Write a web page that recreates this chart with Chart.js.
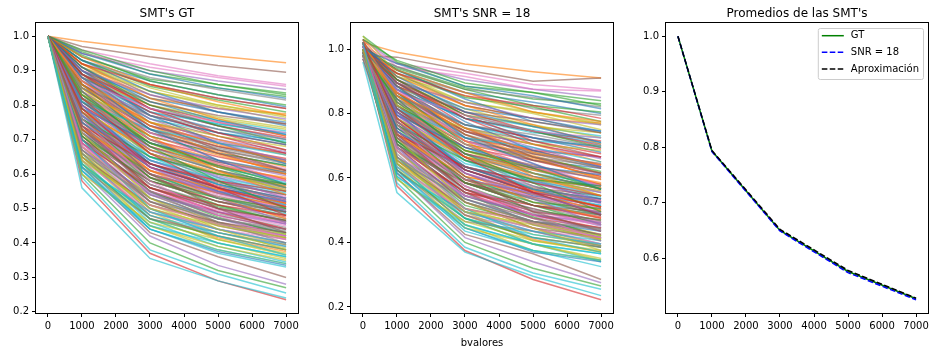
<!DOCTYPE html>
<html>
<head>
<meta charset="utf-8">
<script src="https://cdn.jsdelivr.net/npm/chart.js@4.4.1/dist/chart.umd.min.js"></script>
<style>
html,body{margin:0;padding:0;background:#fff;}
#wrap{position:relative;width:932px;height:353px;overflow:hidden;background:#fff;}
canvas{position:absolute;top:0;}
</style>
</head>
<body>
<div id="wrap">
<canvas id="c1" style="left:0px" width="310" height="353"></canvas>
<canvas id="c2" style="left:310px" width="310" height="353"></canvas>
<canvas id="c3" style="left:620px" width="312" height="353"></canvas>
</div>
<script>
// ---------- data ----------
const BVALORES = [0, 1000, 3000, 5000, 7000];
const X_TICKS = [0, 1000, 2000, 3000, 4000, 5000, 6000, 7000];
const GT_Y_TICKS = [0.2, 0.3, 0.4, 0.5, 0.6, 0.7, 0.8, 0.9, 1.0];
const SNR_Y_TICKS = [0.2, 0.4, 0.6, 0.8, 1.0];
const AVG_Y_TICKS = [0.6, 0.7, 0.8, 0.9, 1.0];

const TITLE_GT = "SMT's GT";
const TITLE_SNR = "SMT's SNR = 18";
const TITLE_AVG = "Promedios de las SMT's";
const X_LABEL = "bvalores";
const AVG_LABELS = ["GT", "SNR = 18", "Aproximación"];

// each row: signal at b = 0, 1000, 3000, 5000, 7000
const GT_CURVES = [
[1,0.93,0.87,0.83,0.795],[1,0.985,0.962,0.942,0.923],[1,0.94,0.875,0.85,0.825],[1,0.89,0.77,0.72,0.685],[1,0.95,0.90,0.87,0.845],
[1,0.97,0.94,0.915,0.895],[1,0.96,0.92,0.885,0.86],[1,0.93,0.86,0.82,0.79],[1,0.92,0.85,0.80,0.765],[1,0.90,0.80,0.755,0.725],
[1,0.88,0.79,0.74,0.70],[1,0.91,0.82,0.79,0.775],[1,0.955,0.89,0.86,0.835],[1,0.87,0.74,0.69,0.66],[1,0.86,0.75,0.70,0.665],
[1,0.92,0.83,0.78,0.745],[1,0.95,0.91,0.88,0.855],[1,0.94,0.88,0.845,0.815],[1,0.90,0.81,0.765,0.735],[1,0.89,0.79,0.745,0.715],
[1,0.84,0.71,0.66,0.625],[1,0.85,0.72,0.665,0.62],[1,0.945,0.87,0.83,0.80],[1,0.90,0.79,0.74,0.705],[1,0.82,0.69,0.635,0.595],
[1,0.87,0.76,0.71,0.67],[1,0.80,0.66,0.60,0.555],[1,0.81,0.68,0.62,0.58],[1,0.88,0.80,0.76,0.73],[1,0.86,0.76,0.72,0.695],
[1,0.78,0.64,0.58,0.54],[1,0.83,0.70,0.64,0.60],[1,0.93,0.855,0.815,0.78],[1,0.85,0.73,0.68,0.645],[1,0.77,0.62,0.56,0.52],
[1,0.84,0.72,0.67,0.635],[1,0.76,0.60,0.54,0.50],[1,0.79,0.65,0.60,0.565],[1,0.91,0.84,0.80,0.77],[1,0.83,0.69,0.62,0.575],
[1,0.75,0.61,0.55,0.51],[1,0.80,0.67,0.61,0.57],[1,0.74,0.58,0.52,0.48],[1,0.82,0.70,0.65,0.61],[1,0.73,0.57,0.50,0.455],
[1,0.78,0.63,0.57,0.53],[1,0.72,0.56,0.49,0.45],[1,0.81,0.66,0.60,0.56],[1,0.70,0.54,0.47,0.43],[1,0.77,0.60,0.53,0.485],
[1,0.69,0.53,0.47,0.43],[1,0.76,0.61,0.555,0.515],[1,0.68,0.52,0.455,0.415],[1,0.75,0.59,0.52,0.475],[1,0.66,0.49,0.43,0.39],
[1,0.74,0.60,0.545,0.505],[1,0.71,0.55,0.49,0.46],[1,0.67,0.50,0.44,0.40],[1,0.65,0.47,0.40,0.355],[1,0.64,0.46,0.39,0.345],
[1,0.63,0.44,0.375,0.335],[1,0.66,0.48,0.415,0.375],[1,0.60,0.40,0.32,0.27],[1,0.58,0.37,0.29,0.235],[1,0.61,0.42,0.335,0.28],
[1,0.62,0.43,0.36,0.30],[1,0.69,0.52,0.46,0.42],[1,0.72,0.57,0.51,0.47],[1,0.64,0.45,0.38,0.34],[1,0.56,0.355,0.29,0.24],
[1,0.87,0.77,0.72,0.685],[1,0.79,0.66,0.605,0.565],[1,0.82,0.71,0.66,0.625],[1,0.76,0.62,0.565,0.525],[1,0.85,0.74,0.695,0.66],
[1,0.70,0.56,0.50,0.465],[1,0.78,0.64,0.58,0.535],[1,0.73,0.58,0.52,0.48],[1,0.68,0.51,0.44,0.395],[1,0.59,0.38,0.31,0.255],
[1,0.81,0.67,0.61,0.57],[1,0.86,0.75,0.70,0.655],[1,0.75,0.60,0.53,0.49],[1,0.71,0.55,0.48,0.44],[1,0.79,0.64,0.57,0.525],
[1,0.77,0.63,0.575,0.54],[1,0.84,0.72,0.66,0.615],[1,0.74,0.59,0.53,0.49],[1,0.67,0.49,0.41,0.365],[1,0.62,0.44,0.37,0.33],
[1,0.88,0.78,0.73,0.69],[1,0.83,0.71,0.655,0.605],[1,0.72,0.57,0.505,0.465],[1,0.80,0.68,0.625,0.585],[1,0.69,0.53,0.46,0.42],
[1,0.86,0.74,0.68,0.64],[1,0.75,0.61,0.545,0.50],[1,0.70,0.55,0.485,0.445],[1,0.92,0.84,0.795,0.755],[1,0.66,0.47,0.40,0.36],
[1,0.90,0.82,0.78,0.75],[1,0.82,0.69,0.63,0.585],[1,0.71,0.55,0.475,0.425],[1,0.89,0.80,0.75,0.71],[1,0.80,0.66,0.595,0.55],
[1,0.73,0.59,0.535,0.495],[1,0.77,0.62,0.555,0.51],[1,0.85,0.73,0.675,0.64],[1,0.68,0.53,0.46,0.415],[1,0.87,0.78,0.745,0.72],
[1,0.76,0.63,0.57,0.53],[1,0.73,0.60,0.545,0.505],[1,0.63,0.47,0.42,0.38],[1,0.79,0.63,0.56,0.515],[1,0.70,0.545,0.48,0.44],
[1,0.81,0.69,0.635,0.60],[1,0.74,0.57,0.50,0.455],[1,0.83,0.72,0.67,0.63],[1,0.66,0.50,0.43,0.385],[1,0.78,0.65,0.59,0.55],
[1,0.90,0.77,0.69,0.63],[1,0.88,0.74,0.66,0.60],[1,0.86,0.70,0.62,0.56],[1,0.91,0.79,0.72,0.67],[1,0.84,0.67,0.59,0.53],
[1,0.89,0.75,0.67,0.61],[1,0.87,0.72,0.64,0.58],[1,0.83,0.66,0.58,0.52],[1,0.85,0.69,0.61,0.55],[1,0.82,0.65,0.57,0.51],
[1,0.80,0.63,0.55,0.49],[1,0.78,0.61,0.53,0.47],[1,0.76,0.59,0.51,0.46],[1,0.74,0.56,0.49,0.44],[1,0.72,0.54,0.47,0.42],
[1,0.70,0.52,0.45,0.41],[1,0.68,0.50,0.44,0.40],[1,0.65,0.48,0.42,0.38],[1,0.63,0.45,0.39,0.35],[1,0.61,0.44,0.38,0.34],
[1,0.93,0.84,0.78,0.74],[1,0.92,0.82,0.76,0.71],[1,0.91,0.80,0.74,0.69],[1,0.89,0.78,0.71,0.66],[1,0.88,0.76,0.69,0.64],
[1,0.86,0.73,0.66,0.61],[1,0.84,0.70,0.63,0.58],[1,0.82,0.68,0.61,0.56],[1,0.79,0.66,0.60,0.555],[1,0.77,0.64,0.585,0.545],
[1,0.75,0.62,0.56,0.52],[1,0.73,0.61,0.555,0.515],[1,0.71,0.58,0.53,0.50],[1,0.69,0.56,0.51,0.48],[1,0.67,0.54,0.49,0.455],
[1,0.65,0.51,0.46,0.43],[1,0.64,0.49,0.44,0.41],[1,0.62,0.47,0.43,0.395],[1,0.60,0.46,0.41,0.37],[1,0.63,0.48,0.43,0.39],
[1,0.95,0.89,0.85,0.82],[1,0.94,0.86,0.81,0.77],[1,0.96,0.90,0.86,0.83],[1,0.92,0.86,0.82,0.79],[1,0.90,0.83,0.79,0.76],
[1,0.89,0.81,0.77,0.745],[1,0.87,0.79,0.75,0.72],[1,0.85,0.77,0.73,0.70],[1,0.83,0.75,0.71,0.68],[1,0.81,0.73,0.69,0.655],
[1,0.79,0.69,0.64,0.605],[1,0.78,0.67,0.62,0.59],[1,0.76,0.65,0.60,0.57],[1,0.74,0.63,0.58,0.55],[1,0.72,0.60,0.55,0.52],
[1,0.70,0.58,0.52,0.49],[1,0.68,0.55,0.495,0.46],[1,0.66,0.53,0.47,0.44],[1,0.64,0.51,0.455,0.425],[1,0.62,0.49,0.44,0.40],
[1,0.88,0.73,0.64,0.57],[1,0.86,0.71,0.61,0.54],[1,0.84,0.68,0.58,0.50],[1,0.82,0.66,0.56,0.48],[1,0.80,0.62,0.53,0.46],
[1,0.78,0.60,0.50,0.43],[1,0.76,0.58,0.48,0.41],[1,0.74,0.55,0.46,0.40],[1,0.72,0.53,0.44,0.38],[1,0.70,0.50,0.42,0.365],
[1,0.91,0.81,0.755,0.715],[1,0.87,0.75,0.685,0.635],[1,0.83,0.69,0.625,0.57],[1,0.79,0.62,0.56,0.505],[1,0.77,0.62,0.545,0.495],
[1,0.73,0.56,0.50,0.465],[1,0.69,0.51,0.455,0.42],[1,0.67,0.52,0.47,0.435],[1,0.65,0.50,0.45,0.415],[1,0.61,0.45,0.40,0.36]
];

const SNR_CURVES = [
[1.01,0.935,0.865,0.835,0.80],[1.02,0.99,0.954,0.93,0.91],[0.99,0.945,0.88,0.845,0.83],[1.00,0.895,0.765,0.725,0.69],[1.03,0.955,0.905,0.875,0.85],
[0.98,0.975,0.935,0.90,0.91],[1.01,0.955,0.925,0.89,0.873],[0.99,0.925,0.865,0.815,0.795],[1.00,0.915,0.855,0.805,0.77],[1.02,0.905,0.795,0.76,0.73],
[0.97,0.885,0.785,0.745,0.705],[1.01,0.905,0.825,0.785,0.77],[1.04,0.96,0.885,0.865,0.84],[0.99,0.865,0.745,0.685,0.665],[1.00,0.865,0.745,0.705,0.66],
[0.98,0.925,0.825,0.785,0.74],[1.03,0.945,0.915,0.875,0.87],[0.99,0.945,0.875,0.85,0.82],[1.01,0.895,0.815,0.76,0.74],[0.97,0.895,0.785,0.75,0.71],
[1.00,0.835,0.715,0.655,0.63],[1.02,0.855,0.715,0.67,0.615],[0.98,0.94,0.875,0.825,0.805],[1.01,0.905,0.785,0.745,0.70],[0.99,0.815,0.695,0.63,0.60],
[1.00,0.875,0.755,0.715,0.665],[1.03,0.795,0.665,0.595,0.56],[0.97,0.815,0.675,0.625,0.575],[1.00,0.885,0.795,0.765,0.725],[1.02,0.855,0.765,0.715,0.70],
[0.99,0.785,0.635,0.585,0.535],[1.00,0.825,0.705,0.635,0.605],[1.01,0.935,0.85,0.82,0.775],[0.98,0.855,0.725,0.685,0.64],[1.02,0.765,0.625,0.555,0.525],
[1.00,0.845,0.715,0.675,0.63],[0.97,0.765,0.595,0.545,0.495],[1.01,0.785,0.655,0.595,0.57],[0.99,0.915,0.835,0.805,0.765],[1.00,0.825,0.695,0.615,0.58],
[1.02,0.745,0.615,0.545,0.515],[0.98,0.805,0.665,0.615,0.565],[1.01,0.735,0.585,0.515,0.485],[0.99,0.825,0.695,0.655,0.605],[1.00,0.735,0.565,0.505,0.45],
[1.03,0.775,0.635,0.565,0.535],[0.97,0.715,0.565,0.485,0.455],[1.00,0.815,0.655,0.605,0.555],[1.01,0.705,0.535,0.475,0.425],[0.99,0.765,0.605,0.525,0.49],
[1.00,0.685,0.535,0.465,0.435],[1.02,0.765,0.605,0.56,0.51],[0.98,0.685,0.515,0.46,0.41],[1.00,0.745,0.595,0.515,0.48],[1.01,0.665,0.485,0.435,0.385],
[0.99,0.745,0.595,0.55,0.50],[1.00,0.705,0.555,0.485,0.465],[0.97,0.675,0.495,0.445,0.395],[1.01,0.645,0.475,0.395,0.35],[0.99,0.645,0.455,0.395,0.34],
[1.00,0.625,0.445,0.37,0.34],[1.02,0.655,0.485,0.41,0.37],[0.99,0.60,0.40,0.32,0.265],[1.00,0.575,0.375,0.285,0.222],[1.01,0.615,0.415,0.34,0.275],
[0.98,0.615,0.425,0.365,0.285],[1.00,0.695,0.525,0.455,0.425],[1.02,0.715,0.565,0.515,0.465],[0.99,0.645,0.455,0.375,0.345],[0.96,0.555,0.37,0.295,0.235],
[1.00,0.875,0.765,0.725,0.68],[1.01,0.785,0.665,0.60,0.57],[0.99,0.825,0.705,0.665,0.62],[1.00,0.755,0.625,0.56,0.53],[1.02,0.845,0.745,0.69,0.665],
[0.98,0.705,0.555,0.505,0.46],[1.00,0.785,0.635,0.585,0.53],[1.01,0.725,0.585,0.515,0.485],[0.99,0.685,0.505,0.445,0.39],[1.00,0.585,0.385,0.305,0.255],
[1.01,0.805,0.675,0.605,0.575],[0.98,0.865,0.745,0.705,0.65],[1.00,0.755,0.595,0.535,0.485],[1.02,0.705,0.555,0.475,0.445],[0.99,0.795,0.635,0.575,0.52],
[1.00,0.765,0.635,0.57,0.545],[1.01,0.845,0.715,0.665,0.61],[0.98,0.745,0.585,0.535,0.485],[1.00,0.665,0.495,0.405,0.37],[1.01,0.625,0.435,0.375,0.325],
[0.99,0.875,0.785,0.725,0.695],[1.00,0.835,0.705,0.66,0.60],[1.02,0.715,0.575,0.50,0.47],[0.98,0.805,0.675,0.63,0.58],[1.00,0.695,0.525,0.465,0.415],
[1.01,0.855,0.745,0.675,0.645],[0.99,0.745,0.615,0.54,0.505],[1.00,0.705,0.545,0.49,0.44],[1.04,0.925,0.835,0.80,0.75],[0.99,0.665,0.475,0.395,0.365],
[1.00,0.905,0.815,0.785,0.745],[1.02,0.825,0.685,0.635,0.58],[0.98,0.715,0.545,0.48,0.42],[1.00,0.885,0.805,0.745,0.715],[1.01,0.795,0.665,0.59,0.555],
[0.99,0.735,0.585,0.54,0.49],[1.00,0.775,0.615,0.56,0.505],[1.02,0.845,0.735,0.68,0.635],[0.98,0.685,0.525,0.465,0.41],[1.00,0.875,0.785,0.74,0.725],
[1.01,0.755,0.635,0.565,0.535],[0.99,0.735,0.595,0.55,0.50],[1.00,0.625,0.475,0.415,0.385],[1.02,0.785,0.625,0.565,0.51],[0.98,0.705,0.545,0.485,0.435],
[1.00,0.815,0.685,0.64,0.595],[1.01,0.735,0.575,0.495,0.46],[0.99,0.835,0.725,0.665,0.635],[1.00,0.665,0.505,0.425,0.39],[1.01,0.785,0.645,0.595,0.545],
[1.01,0.895,0.775,0.685,0.635],[0.99,0.885,0.735,0.665,0.595],[1.00,0.865,0.705,0.615,0.565],[1.02,0.905,0.795,0.715,0.675],[0.98,0.845,0.665,0.595,0.525],
[1.00,0.885,0.755,0.665,0.615],[1.01,0.875,0.715,0.645,0.575],[0.99,0.825,0.665,0.575,0.525],[1.00,0.855,0.685,0.615,0.545],[1.02,0.815,0.655,0.565,0.515],
[0.98,0.805,0.625,0.555,0.485],[1.00,0.775,0.615,0.525,0.475],[1.01,0.765,0.585,0.515,0.455],[0.99,0.735,0.565,0.485,0.445],[1.00,0.725,0.535,0.475,0.415],
[1.02,0.695,0.525,0.445,0.415],[0.98,0.685,0.495,0.445,0.395],[1.00,0.645,0.485,0.415,0.385],[1.01,0.635,0.445,0.395,0.345],[0.99,0.605,0.445,0.375,0.345],
[1.00,0.935,0.845,0.775,0.745],[1.03,0.915,0.825,0.765,0.705],[0.99,0.905,0.795,0.745,0.695],[1.00,0.895,0.785,0.705,0.665],[1.01,0.875,0.755,0.695,0.635],
[0.98,0.865,0.735,0.655,0.615],[1.00,0.835,0.705,0.635,0.575],[1.02,0.825,0.675,0.615,0.565],[0.99,0.785,0.665,0.595,0.56],[1.00,0.775,0.635,0.59,0.54],
[1.01,0.745,0.625,0.555,0.525],[0.98,0.735,0.605,0.56,0.51],[1.00,0.705,0.585,0.525,0.505],[1.02,0.695,0.555,0.515,0.475],[0.99,0.665,0.545,0.485,0.46],
[1.00,0.655,0.505,0.465,0.425],[1.01,0.635,0.495,0.435,0.415],[0.97,0.625,0.465,0.435,0.39],[1.00,0.595,0.465,0.405,0.375],[1.02,0.635,0.475,0.425,0.395],
[1.00,0.955,0.885,0.855,0.815],[0.99,0.935,0.865,0.805,0.775],[1.03,0.965,0.895,0.865,0.825],[1.00,0.925,0.855,0.825,0.785],[0.98,0.895,0.835,0.785,0.765],
[1.01,0.895,0.805,0.775,0.74],[1.00,0.865,0.795,0.745,0.725],[0.99,0.855,0.765,0.735,0.695],[1.02,0.825,0.755,0.705,0.685],[1.00,0.815,0.725,0.695,0.65],
[0.98,0.795,0.695,0.635,0.61],[1.01,0.775,0.665,0.625,0.585],[1.00,0.765,0.655,0.595,0.575],[0.99,0.735,0.635,0.585,0.545],[1.02,0.725,0.595,0.555,0.525],
[1.00,0.695,0.585,0.515,0.495],[0.98,0.685,0.545,0.50,0.455],[1.01,0.655,0.535,0.465,0.445],[1.00,0.645,0.505,0.46,0.42],[0.99,0.615,0.495,0.435,0.405],
[1.00,0.885,0.725,0.645,0.565],[1.02,0.855,0.715,0.605,0.545],[0.98,0.845,0.675,0.585,0.495],[1.00,0.815,0.665,0.555,0.485],[1.01,0.805,0.615,0.535,0.455],
[0.99,0.775,0.605,0.495,0.435],[1.00,0.765,0.575,0.485,0.405],[1.02,0.735,0.555,0.455,0.405],[0.98,0.725,0.525,0.445,0.375],[1.00,0.695,0.505,0.415,0.37],
[1.01,0.915,0.805,0.76,0.71],[0.99,0.865,0.755,0.68,0.64],[1.00,0.835,0.685,0.63,0.565],[1.02,0.785,0.625,0.555,0.51],[0.98,0.775,0.615,0.55,0.49],
[1.00,0.725,0.565,0.495,0.47],[1.01,0.695,0.505,0.46,0.415],[0.99,0.665,0.525,0.465,0.44],[1.00,0.655,0.495,0.455,0.41],[1.02,0.605,0.455,0.395,0.365]
];

const AVG_GT = [1.0, 0.793, 0.650, 0.576, 0.527];
const AVG_SNR = [1.0, 0.792, 0.649, 0.574, 0.525];
const AVG_APPROX = [1.0, 0.794, 0.652, 0.578, 0.528];

// ---------- styles ----------
const TAB10 = ['31,119,180','255,127,14','44,160,44','214,39,40','148,103,189',
               '140,86,75','227,119,194','127,127,127','188,189,34','23,190,207'];
const CURVE_ALPHA = 0.6;
const FONT = "'DejaVu Sans', sans-serif";
Chart.defaults.font.family = FONT;
Chart.defaults.font.size = 10;
Chart.defaults.color = '#000';

function limits(values) {
  const mn = Math.min(...values), mx = Math.max(...values);
  const pad = (mx - mn) * 0.05;
  return [mn - pad, mx + pad];
}
function toPoints(vals) { return vals.map((y, j) => ({x: BVALORES[j], y})); }

const framePlugin = {
  id: 'frame',
  afterDraw(chart) {
    const o = chart.options.plugins.frame || {};
    const {ctx, chartArea: a} = chart;
    ctx.save();
    ctx.strokeStyle = '#000';
    ctx.lineWidth = 1;
    ctx.strokeRect(Math.round(a.left) - 0.5, Math.round(a.top) - 0.5,
                   Math.round(a.right - a.left) + 1, Math.round(a.bottom - a.top) + 1);
    ctx.fillStyle = '#000';
    ctx.textAlign = 'center';
    ctx.textBaseline = 'alphabetic';
    const cx = (a.left + a.right) / 2;
    if (o.title) { ctx.font = '12px ' + FONT; ctx.fillText(o.title, cx, 17); }
    if (o.xTitle) { ctx.font = '10px ' + FONT; ctx.fillText(o.xTitle, cx, 345.5); }
    if (o.legend) {
      ctx.font = '10px ' + FONT;
      const items = chart.data.datasets.map(d => d);
      const maxW = Math.max(...items.map(d => ctx.measureText(d.label).width));
      const bw = 4 + 22 + 7 + maxW + 4, bh = 51;
      const bx = a.right - 5 - bw, by = a.top + 5;
      ctx.beginPath();
      if (ctx.roundRect) ctx.roundRect(bx + 0.5, by + 0.5, bw, bh, 2); else ctx.rect(bx + 0.5, by + 0.5, bw, bh);
      ctx.fillStyle = 'rgba(255,255,255,0.8)';
      ctx.fill();
      ctx.strokeStyle = '#cccccc';
      ctx.lineWidth = 1;
      ctx.stroke();
      items.forEach((d, i) => {
        const y = by + 7.7 + i * 16.65;
        ctx.beginPath();
        ctx.setLineDash(d.borderDash || []);
        ctx.strokeStyle = d.borderColor;
        ctx.lineWidth = 1.5;
        ctx.moveTo(bx + 4, y); ctx.lineTo(bx + 26, y);
        ctx.stroke();
        ctx.setLineDash([]);
        ctx.fillStyle = '#000';
        ctx.textAlign = 'left';
        ctx.textBaseline = 'middle';
        ctx.fillText(d.label, bx + 33, y);
      });
    }
    ctx.restore();
  }
};

function makeChart(id, datasets, yTicks, yLim, box, frameOpts) {
  const xLim = limits(BVALORES);
  return new Chart(document.getElementById(id), {
    type: 'line',
    data: {datasets},
    plugins: [framePlugin],
    options: {
      responsive: false, animation: false, events: [],
      layout: {padding: {left: 0, right: box.padRight, top: 23, bottom: 0}},
      plugins: {legend: {display: false}, tooltip: {enabled: false}, title: {display: false}, frame: frameOpts},
      elements: {point: {radius: 0}, line: {tension: 0, borderWidth: 1.5}},
      scales: {
        x: {
          type: 'linear', min: xLim[0], max: xLim[1],
          afterBuildTicks: s => { s.ticks = X_TICKS.map(v => ({value: v})); },
          ticks: {callback: v => String(v), color: '#000', padding: 3, maxRotation: 0, autoSkip: false, font: {size: 10}},
          grid: {drawOnChartArea: false, drawTicks: true, tickLength: 4, color: '#000', lineWidth: 1},
          border: {display: false},
          afterFit: s => { s.height = 40; s.paddingLeft = 0; s.paddingRight = 0; }
        },
        y: {
          type: 'linear', min: yLim[0], max: yLim[1],
          afterBuildTicks: s => { s.ticks = yTicks.map(v => ({value: v})); },
          ticks: {callback: v => Number(v).toFixed(1), color: '#000', padding: 3, autoSkip: false, font: {size: 10}},
          grid: {drawOnChartArea: false, drawTicks: true, tickLength: 4, color: '#000', lineWidth: 1},
          border: {display: false},
          afterFit: s => { s.width = box.axisW; s.paddingTop = 0; s.paddingBottom = 0; }
        }
      }
    }
  });
}

function curveSets(curves) {
  return curves.map((vals, i) => ({
    data: toPoints(vals),
    borderColor: 'rgba(' + TAB10[i % 10] + ',' + CURVE_ALPHA + ')',
    borderWidth: 1.5, pointRadius: 0, fill: false, order: curves.length - i
  }));
}

makeChart('c1', curveSets(GT_CURVES), GT_Y_TICKS, limits(GT_CURVES.flat()),
  {axisW: 36, padRight: 12}, {title: TITLE_GT});
makeChart('c2', curveSets(SNR_CURVES), SNR_Y_TICKS, limits(SNR_CURVES.flat()),
  {axisW: 41, padRight: 7}, {title: TITLE_SNR, xTitle: X_LABEL});
makeChart('c3', [
    {label: AVG_LABELS[0], data: toPoints(AVG_GT), borderColor: '#008000', borderWidth: 1.5, order: 3},
    {label: AVG_LABELS[1], data: toPoints(AVG_SNR), borderColor: '#0000ff', borderWidth: 1.5, borderDash: [5.55, 2.4], order: 2},
    {label: AVG_LABELS[2], data: toPoints(AVG_APPROX), borderColor: '#000000', borderWidth: 1.5, borderDash: [5.55, 2.4], order: 1}
  ], AVG_Y_TICKS, limits([...AVG_GT, ...AVG_SNR, ...AVG_APPROX]),
  {axisW: 46, padRight: 4}, {title: TITLE_AVG, legend: true});
</script>
</body>
</html>
